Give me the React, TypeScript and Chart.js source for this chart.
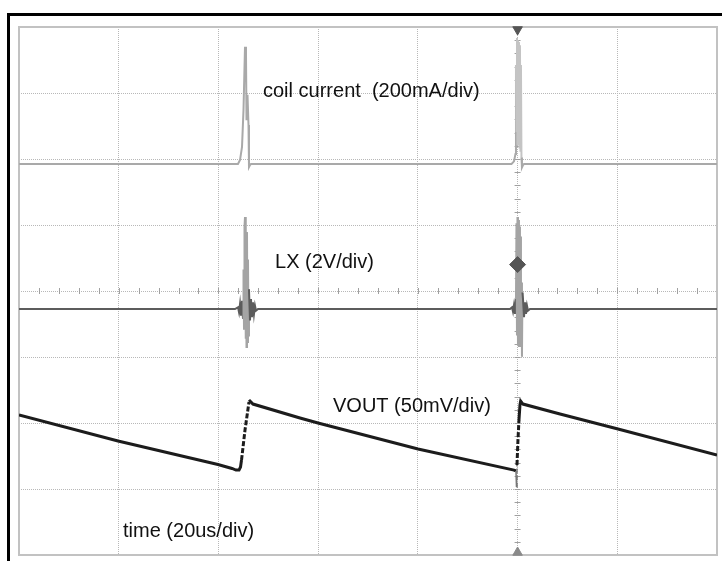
import { useEffect, useRef } from "react";
import { Chart, registerables } from "chart.js";

Chart.register(...registerables);

// ---- time axis (microseconds, 20 us/div, 7 divisions visible) ----
const timeMin = 0;
const timeMax = 140;
const timeStep = 20;
const gridDivMin = 0;
const gridDivMax = 8;

// ---- coil current trace (mA, 200 mA/div) ----
const coilTime = [0, 43.92, 44.33, 44.73, 45.03, 45.33, 45.53, 45.63, 45.83, 46.03, 46.13, 46.33, 46.53,
  98.78, 99.28, 99.58, 99.68, 99.78, 99.88, 99.98, 100.08, 100.18, 100.28, 100.38, 100.48, 100.58, 100.68,
  100.78, 100.88, 101.09, 101.29, 140];
const coilCurrent = [0, 0, 12, 52, 164, 355, 330, 133, 210, 118, -9, -3, 0,
  0, 8, 30, 300, 100, 382, 60, 375, 80, 370, 50, 360, 40, 300,
  20, -10, -3, 0, 0];

// ---- LX trace (V, 2 V/div) ----
const lxTime = [0, 43.32, 43.93, 44.13, 44.33, 44.53, 44.73, 44.93, 45.03, 45.13, 45.23, 45.33, 45.43, 45.53,
  45.63, 45.73, 45.83, 45.93, 46.03, 46.13, 46.33, 46.53, 46.73, 46.93, 47.13, 47.33, 47.54, 47.94,
  98.48, 98.88, 99.08, 99.28, 99.48, 99.68, 99.78, 99.88, 99.98, 100.08, 100.18, 100.28, 100.38, 100.48,
  100.58, 100.68, 100.78, 100.88, 100.98, 101.09, 101.29, 101.49, 101.69, 101.89, 102.09, 102.49, 140];
const lxVoltage = [0, 0, 0.05, -0.1, 0.15, -0.2, 0.25, -0.3, 1.2, -0.6, 2.5, 2.79, -0.9, 2.4,
  -1.15, 2.33, -1.0, 1.5, -0.8, 0.6, -0.35, 0.3, -0.25, 0.2, -0.15, 0.1, -0.05, 0,
  0, 0.05, -0.08, 0.12, -0.15, 0.3, 2.6, -0.8, 2.79, -1.1, 2.7, -1.15, 2.5, -1.15,
  2.2, -1.1, 0.8, -1.45, 0.5, 0.3, -0.25, 0.2, -0.15, 0.1, -0.05, 0, 0];

// ---- VOUT ripple trace (mV, 50 mV/div) ----
const voutTime = [0, 19.86, 39.91, 42.72, 43.52, 44.13, 44.43, 44.63, 45.33, 46.13, 46.33, 46.93, 56.36,
  59.97, 80.03, 99.28, 99.68, 99.78, 99.88, 100.08, 100.28, 100.48, 100.62, 101.09, 108.51, 120.14, 140];
const voutRipple = [15.9, -3.8, -21.6, -24.6, -25.8, -25.8, -23.5, -18.2, 4.5, 25.8, 26.5, 24.2, 13.6,
  9.8, -9.8, -25.8, -26.5, -38.6, -22.0, -3.0, 12.1, 23.5, 26.5, 24.2, 16.7, 5.3, -14.4];

// ---- channel scaling: units per division, zero level (divisions from bottom) ----
const coilPerDiv = 200;
const coilZeroDiv = 5.924;
const lxPerDiv = 2;
const lxZeroDiv = 3.727;
const voutPerDiv = 50;
const voutZeroDiv = 1.803;

// ---- scope markers (time, division) ----
const triggerTime = 100;
const centerDiv = 4;
const topMarkerDiv = 7.962;
const bottomMarkerDiv = 0.038;
const levelMarkerDiv = 4.4;

// ---- annotation texts ----
const labelTexts = ["coil current  (200mA/div)", "LX (2V/div)", "VOUT (50mV/div)", "time (20us/div)"];
const labelTimes = [48.94, 51.35, 62.98, 20.86];
const labelDivs = [6.94, 4.35, 2.17, 0.273];

const pairs = (xs: number[], ys: number[]) => xs.map((x, i) => ({ x, y: ys[i] }));

const scopeOverlay = {
  id: "scopeOverlay",
  beforeDatasetsDraw(chart: any) {
    const { ctx, chartArea: a, scales } = chart;
    const xs = scales.x;
    const gs = scales.grid;
    const cx = xs.getPixelForValue(triggerTime);
    const cy = gs.getPixelForValue(centerDiv);
    ctx.save();
    ctx.strokeStyle = "#a0a0a0";
    ctx.lineWidth = 1;
    ctx.beginPath();
    for (let t = timeMin + timeStep / 5; t < timeMax; t += timeStep / 5) {
      const px = Math.round(xs.getPixelForValue(t)) + 0.5;
      ctx.moveTo(px, cy - 3);
      ctx.lineTo(px, cy + 3);
    }
    for (let d = gridDivMin + 0.2; d < gridDivMax - 0.01; d += 0.2) {
      const py = Math.round(gs.getPixelForValue(d)) + 0.5;
      ctx.moveTo(cx - 3, py);
      ctx.lineTo(cx + 3, py);
    }
    ctx.stroke();
    ctx.strokeStyle = "#c2c2c2";
    ctx.lineWidth = 2;
    ctx.strokeRect(a.left, a.top, a.right - a.left, a.bottom - a.top);
    ctx.restore();
  },
  afterDatasetsDraw(chart: any) {
    const { ctx, scales } = chart;
    ctx.save();
    ctx.fillStyle = "#111111";
    ctx.font = '20px "Liberation Sans", Arial, sans-serif';
    ctx.textBaseline = "alphabetic";
    ctx.textAlign = "left";
    labelTexts.forEach((t, i) => {
      ctx.fillText(t, scales.x.getPixelForValue(labelTimes[i]), scales.grid.getPixelForValue(labelDivs[i]));
    });
    ctx.restore();
  },
};

export default function App() {
  const ref = useRef<HTMLCanvasElement | null>(null);
  useEffect(() => {
    if (!ref.current) return;
    const gridStyle = { color: "#b8b8b8", lineWidth: 1, drawTicks: false };
    const chart = new Chart(ref.current, {
      type: "line",
      data: {
        datasets: [
          {
            label: "coil current",
            data: pairs(coilTime, coilCurrent),
            yAxisID: "yCoil",
            borderColor: "#a9a9a9",
            borderWidth: 2,
            pointRadius: 0,
            tension: 0,
            segment: {
              borderColor: (c: any) =>
                c.p0.parsed.x > 99.6 && c.p1.parsed.x < 100.8 ? "#c4c4c4" : undefined,
            },
          },
          {
            label: "LX",
            data: pairs(lxTime, lxVoltage),
            yAxisID: "yLx",
            borderColor: "#5c5c5c",
            borderWidth: 2,
            pointRadius: 0,
            tension: 0,
            segment: {
              borderColor: (c: any) =>
                Math.abs(c.p0.parsed.y) > 0.7 || Math.abs(c.p1.parsed.y) > 0.7 ? "#a4a4a4" : undefined,
            },
          },
          {
            label: "VOUT",
            data: pairs(voutTime, voutRipple),
            yAxisID: "yVout",
            borderColor: "#1c1c1c",
            borderWidth: 3,
            pointRadius: 0,
            tension: 0,
            segment: {
              borderDash: (c: any) => (c.p1.parsed.y - c.p0.parsed.y > 12 ? [5, 2] : undefined),
              borderColor: (c: any) => (c.p0.parsed.y < -30 || c.p1.parsed.y < -30 ? "#777777" : undefined),
              borderWidth: (c: any) => (c.p0.parsed.y < -30 || c.p1.parsed.y < -30 ? 1.5 : undefined),
            },
          },
          {
            label: "markers",
            type: "scatter",
            order: -1,
            data: [
              { x: triggerTime, y: topMarkerDiv },
              { x: triggerTime, y: bottomMarkerDiv },
              { x: triggerTime, y: levelMarkerDiv },
            ],
            yAxisID: "grid",
            showLine: false,
            clip: false,
            pointStyle: ["triangle", "triangle", "rectRot"],
            pointRotation: [180, 0, 0],
            pointRadius: [5.5, 5.5, 8],
            pointBackgroundColor: ["#555555", "#8a8a8a", "#555555"],
            pointBorderColor: ["#555555", "#8a8a8a", "#555555"],
            pointBorderWidth: 1,
          } as any,
        ],
      },
      options: {
        animation: false,
        responsive: false,
        maintainAspectRatio: false,
        events: [],
        layout: { autoPadding: false, padding: { left: 19, top: 27, right: 5, bottom: 6 } },
        plugins: { legend: { display: false }, tooltip: { enabled: false } },
        scales: {
          x: {
            type: "linear",
            min: timeMin,
            max: timeMax,
            ticks: { display: false, stepSize: timeStep },
            grid: gridStyle,
            border: { display: false, dash: [1, 1] },
          },
          grid: {
            type: "linear",
            position: "left",
            min: gridDivMin,
            max: gridDivMax,
            ticks: { display: false, stepSize: 1 },
            grid: gridStyle,
            border: { display: false, dash: [1, 1] },
          },
          yCoil: {
            type: "linear",
            display: false,
            min: -coilZeroDiv * coilPerDiv,
            max: (gridDivMax - coilZeroDiv) * coilPerDiv,
          },
          yLx: {
            type: "linear",
            display: false,
            min: -lxZeroDiv * lxPerDiv,
            max: (gridDivMax - lxZeroDiv) * lxPerDiv,
          },
          yVout: {
            type: "linear",
            display: false,
            min: -voutZeroDiv * voutPerDiv,
            max: (gridDivMax - voutZeroDiv) * voutPerDiv,
          },
        },
      } as any,
      plugins: [scopeOverlay],
    });
    return () => chart.destroy();
  }, []);

  return (
    <div style={{ position: "fixed", left: 0, top: 0, width: 722, height: 561, background: "#ffffff", overflow: "hidden" }}>
      <div
        style={{
          position: "absolute",
          left: 7,
          top: 13,
          width: 760,
          height: 600,
          borderLeft: "3px solid #000",
          borderTop: "3px solid #000",
          boxSizing: "border-box",
        }}
      />
      <canvas ref={ref} width={722} height={561} style={{ position: "absolute", left: 0, top: 0, width: 722, height: 561 }} />
    </div>
  );
}
